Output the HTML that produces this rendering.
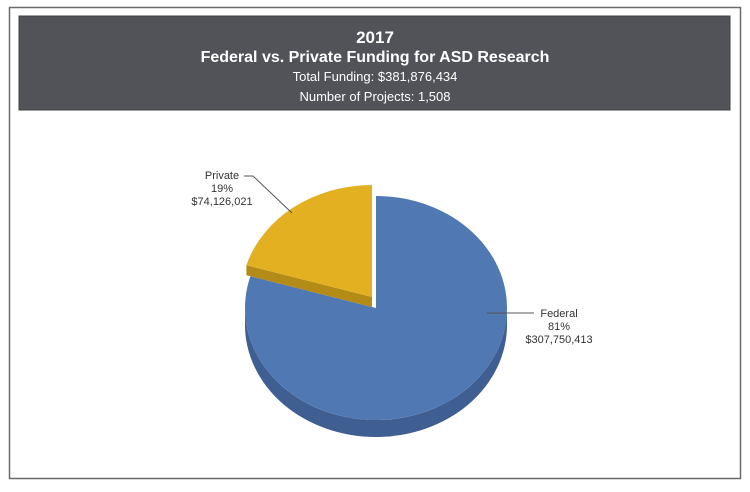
<!DOCTYPE html>
<html><head><meta charset="utf-8"><style>
html,body{margin:0;padding:0;background:#fff;}
</style></head><body>
<svg width="750" height="487" xmlns="http://www.w3.org/2000/svg" font-family="Liberation Sans, sans-serif">
<rect x="9.5" y="7.5" width="731" height="471" fill="#fff" stroke="#6a6a6a" stroke-width="1.5"/>
<rect x="19" y="16" width="711" height="94" fill="#515359" stroke="#3f4045" stroke-width="1"/>
<g fill="#fff" text-anchor="middle" font-weight="bold">
<text x="375" y="43" font-size="17">2017</text>
<text x="375" y="62" font-size="16">Federal vs. Private Funding for ASD Research</text>
<text x="375" y="81" font-size="13" font-weight="normal">Total Funding: $381,876,434</text>
<text x="375" y="101" font-size="13" font-weight="normal">Number of Projects: 1,508</text>
</g>
<!-- Federal side -->
<path d="M245,308 A131,112 0 0,0 507,308 L507,325 A131,112 0 0,1 245,325 Z" fill="#3f5f92"/>
<!-- Federal top -->
<path d="M376,308 L376,196 A131,112 0 1,1 250.4,276.2 Z" fill="#5078b2"/>
<!-- Private side -->
<polygon points="372,297 246.4,265.2 246.4,275.2 372,307" fill="#b48b17"/>
<!-- Private top -->
<path d="M372,297 L372,185 A131,112 0 0,0 246.4,265.2 Z" fill="#e3b021"/>
<line x1="373" y1="186" x2="373" y2="306" stroke="#fff" stroke-width="1.5"/>
<!-- leaders -->
<polyline points="244,176 253,176 292,213" fill="none" stroke="#555" stroke-width="1"/>
<line x1="487" y1="313" x2="534" y2="313" stroke="#555" stroke-width="1"/>
<g fill="#333" font-size="11" text-anchor="middle">
<text x="222" y="179">Private</text>
<text x="222" y="192">19%</text>
<text x="222" y="205">$74,126,021</text>
<text x="559" y="317">Federal</text>
<text x="559" y="330">81%</text>
<text x="559" y="343">$307,750,413</text>
</g>
</svg>
</body></html>
